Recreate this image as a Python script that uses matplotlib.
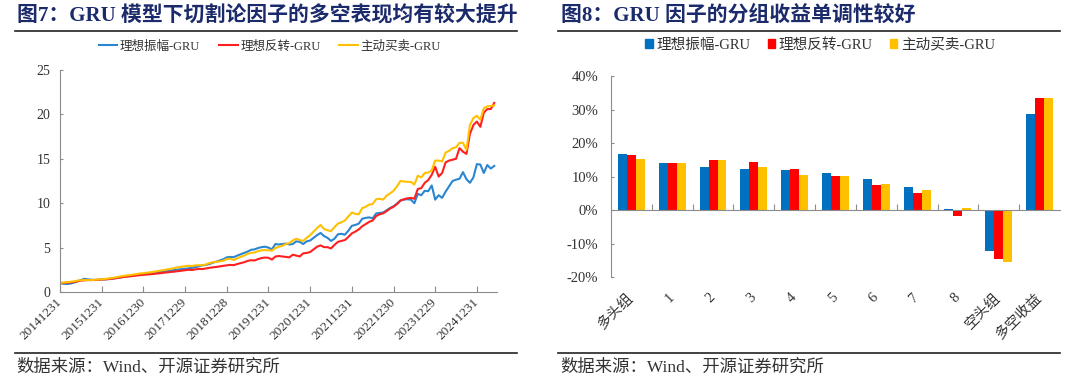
import matplotlib
matplotlib.use("Agg")
import matplotlib.pyplot as plt
from matplotlib.lines import Line2D
from matplotlib.patches import Patch
import numpy as np

plt.rcParams['font.family'] = ['Liberation Serif', 'Noto Sans CJK SC', 'DejaVu Sans']
plt.rcParams['axes.unicode_minus'] = False

# ---------------- data: Figure 7 (monthly NAV, 2014-12-31 .. 2025-05) ----------------
series_names = ['理想振幅-GRU', '理想反转-GRU', '主动买卖-GRU']
date_ticks = ['20141231', '20151231', '20161230', '20171229', '20181228', '20191231',
              '20201231', '20211231', '20221230', '20231229', '20241231']

nav_amplitude = [
    1.00, 0.92, 0.90, 0.95, 1.05, 1.20, 1.35, 1.48, 1.42, 1.38, 1.35, 1.36,
    1.40, 1.42, 1.45, 1.50, 1.55, 1.60, 1.68, 1.75, 1.80, 1.85, 1.92, 1.98,
    2.02, 2.06, 2.10, 2.15, 2.20, 2.25, 2.30, 2.36, 2.42, 2.48, 2.52, 2.58,
    2.62, 2.66, 2.72, 2.80, 2.90, 3.00, 3.05, 3.15, 3.30, 3.42, 3.55, 3.68,
    3.90, 3.95, 3.92, 4.10, 4.25, 4.40, 4.55, 4.75, 4.80, 4.95, 5.05, 5.10,
    5.00, 4.80, 5.40, 5.35, 5.40, 5.45, 5.35, 5.40, 5.70, 5.65, 5.40, 5.70,
    5.80, 6.10, 6.40, 6.65, 6.30, 6.10, 5.75, 6.00, 6.50, 6.55, 6.45, 6.90,
    7.45, 7.55, 7.70, 8.25, 8.35, 8.40, 8.30, 8.85, 8.90, 8.95, 9.20, 9.45,
    9.65, 9.95, 10.30, 10.40, 10.45, 10.40, 10.00, 11.05, 10.90, 11.40, 11.35, 12.00,
    10.40, 10.90, 10.60, 11.30, 11.90, 12.50, 12.65, 12.75, 13.50, 12.70, 12.30, 12.90,
    14.40, 14.35, 13.40, 14.30, 13.90, 14.20]

nav_reversal = [
    1.00, 1.02, 1.05, 1.08, 1.12, 1.20, 1.28, 1.32, 1.35, 1.34, 1.36, 1.38,
    1.40, 1.43, 1.46, 1.50, 1.55, 1.62, 1.68, 1.72, 1.76, 1.80, 1.85, 1.90,
    1.93, 1.97, 2.00, 2.04, 2.08, 2.12, 2.18, 2.22, 2.26, 2.30, 2.35, 2.40,
    2.45, 2.50, 2.48, 2.55, 2.60, 2.58, 2.65, 2.72, 2.78, 2.82, 2.88, 2.95,
    3.00, 3.05, 3.02, 3.15, 3.25, 3.35, 3.50, 3.58, 3.55, 3.70, 3.82, 3.88,
    3.85, 3.65, 4.00, 4.05, 4.00, 3.95, 3.90, 4.20, 4.10, 4.00, 4.35, 4.40,
    4.50, 4.80, 5.10, 5.25, 5.05, 5.05, 4.90, 5.30, 5.65, 5.75, 5.85, 6.20,
    6.60, 6.80, 7.05, 7.40, 7.65, 7.90, 8.05, 8.55, 8.75, 8.85, 9.10, 9.40,
    9.60, 9.90, 10.30, 10.45, 10.55, 10.60, 10.50, 11.60, 11.70, 12.30, 12.60, 13.20,
    14.10, 13.00, 13.40, 14.60, 14.80, 14.90, 15.00, 16.20, 15.80, 15.55, 17.80, 18.80,
    19.20, 18.60, 20.20, 20.60, 20.60, 21.30]

nav_active = [
    1.05, 1.06, 1.10, 1.15, 1.20, 1.28, 1.32, 1.35, 1.33, 1.34, 1.38, 1.40,
    1.42, 1.48, 1.52, 1.58, 1.65, 1.72, 1.80, 1.85, 1.90, 1.96, 2.02, 2.08,
    2.12, 2.18, 2.22, 2.28, 2.35, 2.42, 2.48, 2.55, 2.62, 2.70, 2.78, 2.85,
    2.90, 2.95, 2.92, 3.00, 3.02, 3.00, 3.10, 3.25, 3.35, 3.40, 3.45, 3.52,
    3.70, 3.75, 3.60, 3.80, 3.95, 4.10, 4.30, 4.40, 4.45, 4.60, 4.70, 4.72,
    4.70, 4.65, 4.95, 5.10, 5.20, 5.40, 5.50, 5.80, 6.00, 5.85, 5.75, 6.10,
    6.40, 6.80, 7.20, 7.55, 7.10, 6.95, 6.85, 7.30, 7.70, 7.85, 8.05, 8.50,
    8.95, 8.80, 8.75, 9.45, 9.60, 9.85, 9.90, 10.45, 10.50, 10.40, 10.85, 11.10,
    11.40, 11.90, 12.50, 12.45, 12.40, 12.40, 12.10, 13.10, 12.90, 13.40, 13.45, 13.70,
    14.80, 14.80, 14.70, 15.70, 15.90, 16.20, 16.30, 16.80, 16.80, 16.00, 18.80, 19.60,
    19.85, 19.40, 20.70, 20.90, 20.95, 21.00]

# ---------------- data: Figure 8 (group returns, %) ----------------
groups = ['多头组', '1', '2', '3', '4', '5', '6', '7', '8', '空头组', '多空收益']
ret_amplitude = [16.7, 13.9, 12.9, 12.3, 12.0, 10.9, 9.2, 7.0, 0.4, -12.2, 28.6]
ret_reversal = [16.4, 13.9, 15.0, 14.4, 12.3, 10.1, 7.5, 5.1, -1.7, -14.6, 33.5]
ret_active = [15.3, 13.9, 15.0, 12.8, 10.4, 10.2, 7.7, 6.1, 0.7, -15.6, 33.4]

# ---------------- styling ----------------
line_colors = ['#2A86D1', '#FF1F1F', '#FFC000']
bar_colors = ['#0070C0', '#FF0000', '#FFC000']
title_color = '#1B2A6B'
spine_color = '#8C8C8C'
text_color = '#333333'

fig = plt.figure(figsize=(10.8, 3.87), dpi=100)

# titles and separator lines
fig.text(0.0157, 0.9587, '图7：GRU 模型下切割论因子的多空表现均有较大提升', fontsize=15,
         fontweight='bold', color=title_color, va='center', ha='left')
fig.text(0.519, 0.9587, '图8：GRU 因子的分组收益单调性较好', fontsize=15,
         fontweight='bold', color=title_color, va='center', ha='left')
for x0, x1 in [(0.0139, 0.4787), (0.5167, 0.9815)]:
    fig.add_artist(Line2D([x0, x1], [0.9207, 0.9207], color='#222222', lw=1.2,
                          transform=fig.transFigure))
    fig.add_artist(Line2D([x0, x1], [0.0879, 0.0879], color='#222222', lw=1.2,
                          transform=fig.transFigure))
fig.text(0.0148, 0.049, '数据来源：Wind、开源证券研究所', fontsize=12.5, color=text_color,
         va='center', ha='left')
fig.text(0.5185, 0.049, '数据来源：Wind、开源证券研究所', fontsize=12.5, color=text_color,
         va='center', ha='left')

# ---------------- left: line chart ----------------
ax1 = fig.add_axes([0.0556, 0.2455, 0.4046, 0.5736])
idx = np.arange(len(nav_amplitude))
for vals, c, name in zip([nav_amplitude, nav_reversal, nav_active], line_colors, series_names):
    ax1.plot(idx, vals, color=c, lw=1.5, label=name)
ax1.set_xlim(0, 125.8)
ax1.set_ylim(0, 25)
ax1.set_yticks([0, 5, 10, 15, 20, 25])
ax1.set_xticks(idx[::12][:len(date_ticks)], labels=date_ticks)
for lab in ax1.get_xticklabels():
    lab.set_rotation(45)
    lab.set_ha('right')
    lab.set_va('center')
    lab.set_rotation_mode('anchor')
for s in ['top', 'right']:
    ax1.spines[s].set_visible(False)
for s in ['left', 'bottom']:
    ax1.spines[s].set_color(spine_color)
    ax1.spines[s].set_linewidth(0.8)
ax1.tick_params(axis='x', direction='in', length=4, color=spine_color, labelsize=9.5,
                labelcolor=text_color, pad=6)
ax1.tick_params(axis='y', direction='in', length=2, color=spine_color, labelsize=10,
                labelcolor=text_color, pad=7)
ax1.legend(loc='center', bbox_to_anchor=(0.48, 1.105), ncol=3, frameon=False, fontsize=9,
           handlelength=1.5, handletextpad=0.2, columnspacing=1.5, labelcolor=text_color)

# ---------------- right: grouped bars ----------------
ax2 = fig.add_axes([0.5657, 0.2842, 0.4158, 0.5194])
gx = np.arange(len(groups))
w = 0.22
for k, (vals, c, name) in enumerate(zip([ret_amplitude, ret_reversal, ret_active],
                                         bar_colors, series_names)):
    ax2.bar(gx + (k - 1) * w, vals, width=w, color=c, label=name)
ax2.set_xlim(-0.5, len(groups) - 0.5)
ax2.set_ylim(-20, 40)
yt = [-20, -10, 0, 10, 20, 30, 40]
ax2.set_yticks(yt, labels=[f'{v}%' for v in yt])
ax2.spines['top'].set_visible(False)
ax2.spines['right'].set_visible(False)
ax2.spines['left'].set_color(spine_color)
ax2.spines['left'].set_linewidth(0.8)
ax2.spines['bottom'].set_position(('data', 0))
ax2.spines['bottom'].set_color(spine_color)
ax2.spines['bottom'].set_linewidth(0.8)
ax2.set_xticks(gx[:-1] + 0.5)
ax2.tick_params(axis='x', direction='in', length=4, color=spine_color, labelbottom=False)
ax2.tick_params(axis='y', direction='in', length=2, color=spine_color, labelsize=10.5,
                labelcolor=text_color, pad=9)
sec = ax2.secondary_xaxis(0.0)
sec.set_xticks(gx, labels=groups)
sec.spines['bottom'].set_visible(False)
sec.tick_params(length=0, pad=13, labelsize=10.5, labelcolor=text_color)
for lab in sec.get_xticklabels():
    lab.set_rotation(45)
    lab.set_ha('right')
    lab.set_va('center')
    lab.set_rotation_mode('anchor')
handles = [Patch(color=c) for c in bar_colors]
ax2.legend(handles, series_names, loc='center', bbox_to_anchor=(0.466, 1.155), ncol=3,
           frameon=False, fontsize=10.5, handlelength=0.5, handleheight=0.5,
           handletextpad=0.25, columnspacing=1.2, labelcolor=text_color)

fig.savefig('out.png', dpi=100)
